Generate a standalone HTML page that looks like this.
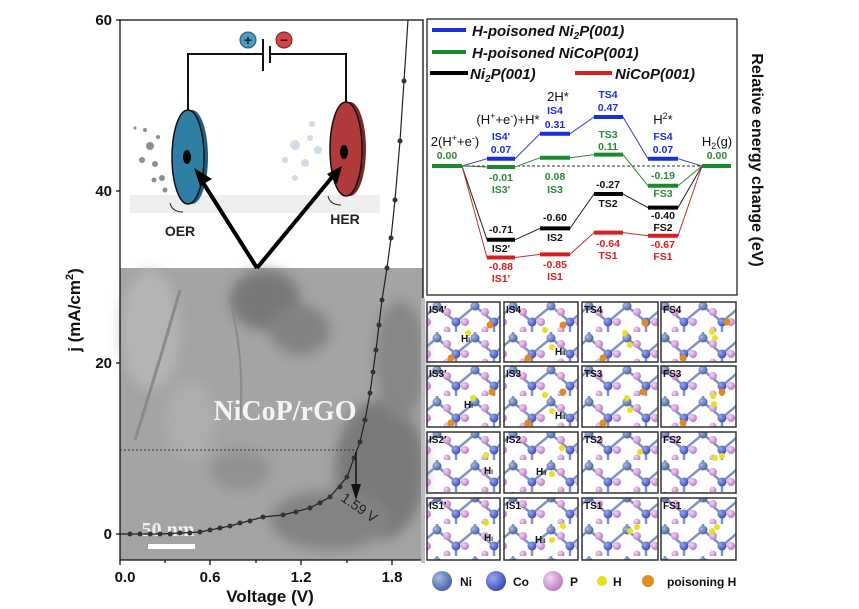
<!DOCTYPE html>
<html><head><meta charset="utf-8"><style>
html,body{margin:0;padding:0;background:#fff;}
svg{display:block;font-family:"Liberation Sans",Arial,sans-serif;}
</style></head><body>
<svg width="859" height="609" viewBox="0 0 859 609" xmlns="http://www.w3.org/2000/svg">
<defs>
<filter id="bl" x="-50%" y="-50%" width="200%" height="200%"><feGaussianBlur stdDeviation="6"/></filter>
<radialGradient id="gb" cx="35%" cy="35%" r="65%"><stop offset="0" stop-color="#a9b9e0"/><stop offset="1" stop-color="#4a65a8"/></radialGradient>
<radialGradient id="gc" cx="35%" cy="35%" r="65%"><stop offset="0" stop-color="#9aa6f0"/><stop offset="1" stop-color="#3c4fb8"/></radialGradient>
<radialGradient id="gp" cx="35%" cy="35%" r="65%"><stop offset="0" stop-color="#f2d6f2"/><stop offset="1" stop-color="#c07cc6"/></radialGradient>
<pattern id="lat" width="38" height="32" patternUnits="userSpaceOnUse" x="427" y="300">
<g stroke="#7f93c4" stroke-width="2.5">
<line x1="10" y1="6" x2="29" y2="22"/><line x1="29" y1="22" x2="48" y2="6"/><line x1="10" y1="6" x2="-9" y2="22"/><line x1="29" y1="22" x2="29" y2="38"/><line x1="10" y1="6" x2="10" y2="-10"/>
</g>
<circle cx="10" cy="6" r="4.5" fill="url(#gb)"/>
<circle cx="29" cy="22" r="4.5" fill="url(#gc)"/>
<circle cx="20" cy="12" r="4" fill="url(#gp)"/>
<circle cx="0" cy="22" r="4" fill="url(#gp)"/><circle cx="38" cy="22" r="4" fill="url(#gp)"/>
<circle cx="20" cy="30" r="3.5" fill="url(#gp)"/>
</pattern>
</defs>

<!-- LEFT PANEL -->
<rect x="120" y="268" width="303" height="292" fill="#a4a4a4"/>
<g filter="url(#bl)" opacity="0.8">
<ellipse cx="150" cy="330" rx="30" ry="60" fill="#b8b8b8"/>
<ellipse cx="265" cy="300" rx="35" ry="30" fill="#6d6d6d"/>
<ellipse cx="300" cy="330" rx="30" ry="25" fill="#7a7a7a"/>
<ellipse cx="380" cy="470" rx="45" ry="70" fill="#707070"/>
<ellipse cx="330" cy="520" rx="60" ry="30" fill="#7b7b7b"/>
<ellipse cx="400" cy="360" rx="25" ry="60" fill="#808080"/>
<ellipse cx="240" cy="470" rx="30" ry="20" fill="#8c8c8c"/>
<ellipse cx="190" cy="420" rx="25" ry="40" fill="#b0b0b0"/>
</g>
<path d="M180 290 Q160 360 135 440" stroke="#8a8a8a" stroke-width="3" fill="none"/>
<path d="M230 300 Q245 360 240 420" stroke="#8a8a8a" stroke-width="2" fill="none"/>
<!-- schematic -->
<rect x="130" y="195" width="250" height="18" fill="#eeeeee"/>
<polyline points="188,110 188,54 263,54" fill="none" stroke="#111" stroke-width="2"/>
<polyline points="270,54 346,54 346,102" fill="none" stroke="#111" stroke-width="2"/>
<line x1="263" y1="39" x2="263" y2="71" stroke="#111" stroke-width="2"/>
<line x1="270" y1="46" x2="270" y2="63" stroke="#111" stroke-width="2"/>
<circle cx="248" cy="40" r="8" fill="#4a9cc0" stroke="#256"/>
<text x="248" y="45" font-size="14" font-weight="bold" text-anchor="middle" fill="#123">+</text>
<circle cx="284" cy="40" r="8" fill="#d24545" stroke="#722"/>
<text x="284" y="45" font-size="14" font-weight="bold" text-anchor="middle" fill="#311">−</text>
<g fill="#8f8f8f">
<circle cx="150" cy="146" r="4"/><circle cx="142" cy="160" r="3"/><circle cx="155" cy="164" r="3"/><circle cx="162" cy="178" r="3"/><circle cx="154" cy="180" r="2.5"/><circle cx="165" cy="190" r="2.5"/><circle cx="145" cy="130" r="2"/><circle cx="158" cy="137" r="2"/><circle cx="135" cy="128" r="1.5"/>
</g>
<g fill="#cfdbe6">
<circle cx="295" cy="145" r="5"/><circle cx="305" cy="163" r="4"/><circle cx="310" cy="138" r="3"/><circle cx="285" cy="160" r="3"/><circle cx="318" cy="150" r="4"/><circle cx="295" cy="178" r="3"/><circle cx="312" cy="124" r="3"/>
</g>
<ellipse cx="192" cy="157" rx="16" ry="47" fill="#1f5f7c"/>
<ellipse cx="188" cy="157" rx="16" ry="47" fill="#2f7ea3" stroke="#111" stroke-width="1.5"/>
<ellipse cx="187" cy="157" rx="4" ry="7" fill="#000"/>
<ellipse cx="350" cy="149" rx="16" ry="47" fill="#7c2727"/>
<ellipse cx="346" cy="149" rx="16" ry="47" fill="#b03a3a" stroke="#111" stroke-width="1.5"/>
<ellipse cx="344" cy="152" rx="4" ry="7" fill="#000"/>
<path d="M170 203 Q172 212 183 212" stroke="#222" fill="none"/>
<path d="M328 196 Q330 205 341 205" stroke="#222" fill="none"/>
<text x="180" y="236" font-size="14" font-weight="bold" text-anchor="middle" fill="#222">OER</text>
<text x="345" y="224" font-size="14" font-weight="bold" text-anchor="middle" fill="#222">HER</text>
<g stroke="#000" stroke-width="4" fill="none">
<line x1="257" y1="268" x2="202" y2="181"/><line x1="257" y1="268" x2="333" y2="176"/>
</g>
<polygon points="194,168 212,179 200,186" fill="#000"/>
<polygon points="342,166 337,184 327,174" fill="#000"/>
<!-- text in TEM -->
<text x="285" y="420" font-family="Liberation Serif,serif" font-size="28" font-weight="bold" fill="#f4f4f4" text-anchor="middle">NiCoP/rGO</text>
<text x="168" y="536" font-family="Liberation Serif,serif" font-size="20" font-weight="bold" fill="#f0f0f0" text-anchor="middle">50 nm</text>
<rect x="148" y="544" width="47" height="5" fill="#fff"/>
<!-- axes -->
<rect x="120" y="20" width="303" height="540" fill="none" stroke="#111" stroke-width="1.3"/>
<g stroke="#111" stroke-width="1.3">
<line x1="116" y1="20" x2="120" y2="20"/><line x1="116" y1="191" x2="120" y2="191"/><line x1="116" y1="363" x2="120" y2="363"/><line x1="116" y1="534" x2="120" y2="534"/>
<line x1="120" y1="560" x2="120" y2="565"/><line x1="210" y1="560" x2="210" y2="565"/><line x1="301" y1="560" x2="301" y2="565"/><line x1="392" y1="560" x2="392" y2="565"/>
<line x1="165" y1="560" x2="165" y2="563"/><line x1="256" y1="560" x2="256" y2="563"/><line x1="347" y1="560" x2="347" y2="563"/>
</g>
<g font-size="15" font-weight="bold" fill="#111" text-anchor="end">
<text x="112" y="25">60</text><text x="112" y="196">40</text><text x="112" y="368">20</text><text x="112" y="539">0</text>
</g>
<g font-size="15" font-weight="bold" fill="#111" text-anchor="middle">
<text x="125" y="582">0.0</text><text x="210" y="582">0.6</text><text x="301" y="582">1.2</text><text x="392" y="582">1.8</text>
</g>
<text x="270" y="602" font-size="17" font-weight="bold" text-anchor="middle" fill="#111">Voltage (V)</text>
<text transform="translate(80,310) rotate(-90)" font-size="17" font-weight="bold" text-anchor="middle" fill="#111">j (mA/cm<tspan font-size="11" dy="-7">2</tspan><tspan dy="7">)</tspan></text>
<!-- curve -->
<line x1="120" y1="450" x2="356" y2="450" stroke="#333" stroke-dasharray="2,2" stroke-width="1"/>
<polyline fill="none" stroke="#222" stroke-width="1.2" points="120,534 160,534 200,532 230,526 263,517 283,515 310,508 330,497 347,477 354,458 360,442 365,420 370,393 376,350 382,300 387,268 391,238 395,200 400,141 404,81 408,20"/>
<g fill="#333">
<circle cx="130" cy="534" r="2.5"/><circle cx="140" cy="534" r="2.5"/><circle cx="150" cy="534" r="2.5"/><circle cx="160" cy="534" r="2.5"/><circle cx="170" cy="534" r="2.5"/><circle cx="180" cy="533" r="2.5"/><circle cx="190" cy="533" r="2.5"/><circle cx="200" cy="532" r="2.5"/><circle cx="210" cy="530" r="2.5"/><circle cx="220" cy="528" r="2.5"/><circle cx="230" cy="526" r="2.5"/><circle cx="240" cy="523" r="2.5"/><circle cx="250" cy="521" r="2.5"/><circle cx="263" cy="517" r="2.5"/><circle cx="283" cy="515" r="2.5"/><circle cx="296" cy="512" r="2.5"/><circle cx="310" cy="508" r="2.5"/><circle cx="320" cy="503" r="2.5"/><circle cx="330" cy="497" r="2.5"/><circle cx="340" cy="487" r="2.5"/><circle cx="347" cy="477" r="2.5"/><circle cx="354" cy="458" r="2.5"/><circle cx="360" cy="442" r="2.5"/><circle cx="365" cy="420" r="2.5"/><circle cx="370" cy="393" r="2.5"/><circle cx="373" cy="372" r="2.5"/><circle cx="376" cy="350" r="2.5"/><circle cx="379" cy="325" r="2.5"/><circle cx="382" cy="300" r="2.5"/><circle cx="387" cy="268" r="2.5"/><circle cx="391" cy="238" r="2.5"/><circle cx="395" cy="200" r="2.5"/><circle cx="400" cy="141" r="2.5"/><circle cx="404" cy="81" r="2.5"/>
</g>
<line x1="356" y1="452" x2="356" y2="488" stroke="#111" stroke-width="1.5"/>
<polygon points="351,484 361,484 356,500" fill="#111"/>
<text transform="translate(340,500) rotate(35)" font-size="14" fill="#222">1.59 V</text>

<!-- TOP RIGHT PANEL -->
<rect x="427" y="19" width="310" height="276" fill="#fff" stroke="#222" stroke-width="1.3"/>
<g stroke-width="4">
<line x1="432" y1="30" x2="466" y2="30" stroke="#1b2fd6"/>
<line x1="432" y1="52" x2="466" y2="52" stroke="#1c8a2a"/>
<line x1="430" y1="73" x2="468" y2="73" stroke="#000"/>
<line x1="575" y1="73" x2="612" y2="73" stroke="#d42020"/>
</g>
<g font-size="15" font-weight="bold" font-style="italic" fill="#111">
<text x="472" y="36">H-poisoned Ni<tspan font-size="10" dy="3">2</tspan><tspan dy="-3">P(001)</tspan></text>
<text x="472" y="58">H-poisoned NiCoP(001)</text>
<text x="470" y="79">Ni<tspan font-size="10" dy="3">2</tspan><tspan dy="-3">P(001)</tspan></text>
<text x="615" y="79">NiCoP(001)</text>
</g>
<line x1="462" y1="166" x2="702" y2="166" stroke="#333" stroke-dasharray="3,2" stroke-width="1"/>
<!-- connectors -->
<g fill="none" stroke-width="1">
<polyline stroke="#3340c8" points="462,166 487,158.7 515,158.7 540,133.8 570,133.8 594,117 623,117 648,158.7 678,158.7 702,166"/>
<polyline stroke="#2a8a35" points="462,166 487,167 515,167 540,157.7 570,157.7 594,154.6 623,154.6 648,185.8 678,185.8 702,166"/>
<polyline stroke="#222" points="462,166 487,239.8 515,239.8 540,228.4 570,228.4 594,194 623,194 648,207.6 678,207.6 702,166"/>
<polyline stroke="#c43030" points="462,166 487,257.5 515,257.5 540,254.4 570,254.4 594,232.6 623,232.6 648,235.7 678,235.7 702,166"/>
</g>
<g stroke-width="4">
<line x1="432" y1="166" x2="462" y2="166" stroke="#1c8a2a"/>
<line x1="702" y1="166" x2="731" y2="166" stroke="#1c8a2a"/>
<g stroke="#1b2fd6"><line x1="487" y1="158.7" x2="515" y2="158.7"/><line x1="540" y1="133.8" x2="570" y2="133.8"/><line x1="594" y1="117" x2="623" y2="117"/><line x1="648" y1="158.7" x2="678" y2="158.7"/></g>
<g stroke="#1c8a2a"><line x1="487" y1="167" x2="515" y2="167"/><line x1="540" y1="157.7" x2="570" y2="157.7"/><line x1="594" y1="154.6" x2="623" y2="154.6"/><line x1="648" y1="185.8" x2="678" y2="185.8"/></g>
<g stroke="#000"><line x1="487" y1="239.8" x2="515" y2="239.8"/><line x1="540" y1="228.4" x2="570" y2="228.4"/><line x1="594" y1="194" x2="623" y2="194"/><line x1="648" y1="207.6" x2="678" y2="207.6"/></g>
<g stroke="#d42020"><line x1="487" y1="257.5" x2="515" y2="257.5"/><line x1="540" y1="254.4" x2="570" y2="254.4"/><line x1="594" y1="232.6" x2="623" y2="232.6"/><line x1="648" y1="235.7" x2="678" y2="235.7"/></g>
</g>
<g font-size="13" fill="#111" text-anchor="middle">
<text x="455" y="146">2(H<tspan font-size="9" dy="-5">+</tspan><tspan dy="5">+e</tspan><tspan font-size="9" dy="-5">-</tspan><tspan dy="5">)</tspan></text>
<text x="508" y="124">(H<tspan font-size="9" dy="-5">+</tspan><tspan dy="5">+e</tspan><tspan font-size="9" dy="-5">-</tspan><tspan dy="5">)+H*</tspan></text>
<text x="558" y="101">2H*</text>
<text x="663" y="124">H<tspan font-size="9" dy="-5">2</tspan><tspan dy="5">*</tspan></text>
<text x="717" y="146">H<tspan font-size="9" dy="3">2</tspan><tspan dy="-3">(g)</tspan></text>
</g>
<g font-size="10.5" font-weight="bold" text-anchor="middle">
<g fill="#1b2fd6">
<text x="501" y="140">IS4'</text><text x="501" y="153">0.07</text>
<text x="555" y="114">IS4</text><text x="555" y="128">0.31</text>
<text x="608" y="98">TS4</text><text x="608" y="111">0.47</text>
<text x="663" y="140">FS4</text><text x="663" y="153">0.07</text>
</g>
<g fill="#2a8a35">
<text x="447" y="159">0.00</text><text x="717" y="159">0.00</text>
<text x="501" y="181">-0.01</text><text x="501" y="193">IS3'</text>
<text x="555" y="180">0.08</text><text x="555" y="193">IS3</text>
<text x="608" y="138">TS3</text><text x="608" y="150">0.11</text>
<text x="663" y="179">-0.19</text><text x="663" y="197">FS3</text>
</g>
<g fill="#111">
<text x="501" y="233">-0.71</text><text x="501" y="252">IS2'</text>
<text x="555" y="221">-0.60</text><text x="555" y="241">IS2</text>
<text x="608" y="188">-0.27</text><text x="608" y="207">TS2</text>
<text x="663" y="219">-0.40</text><text x="663" y="231">FS2</text>
</g>
<g fill="#d42020">
<text x="501" y="270">-0.88</text><text x="501" y="282">IS1'</text>
<text x="555" y="268">-0.85</text><text x="555" y="280">IS1</text>
<text x="608" y="247">-0.64</text><text x="608" y="259">TS1</text>
<text x="663" y="248">-0.67</text><text x="663" y="260">FS1</text>
</g>
</g>
<text transform="translate(752,160) rotate(90)" font-size="16" font-weight="bold" text-anchor="middle" fill="#111">Relative energy change (eV)</text>

<!-- BOTTOM RIGHT GRID -->
<rect x="421" y="298" width="4" height="265" fill="#bbb"/>
<g stroke="#333" stroke-width="1.5" fill="url(#lat)">
<rect x="427" y="302" width="73" height="60"/><rect x="504" y="302" width="74" height="60"/><rect x="582" y="302" width="76" height="60"/><rect x="661" y="302" width="75" height="60"/>
<rect x="427" y="366" width="73" height="61"/><rect x="504" y="366" width="74" height="61"/><rect x="582" y="366" width="76" height="61"/><rect x="661" y="366" width="75" height="61"/>
<rect x="427" y="432" width="73" height="61"/><rect x="504" y="432" width="74" height="61"/><rect x="582" y="432" width="76" height="61"/><rect x="661" y="432" width="75" height="61"/>
<rect x="427" y="498" width="73" height="62"/><rect x="504" y="498" width="74" height="62"/><rect x="582" y="498" width="76" height="62"/><rect x="661" y="498" width="75" height="62"/>
</g>
<g fill="#e08a20">
<circle cx="451" cy="358" r="3.5"/><circle cx="490" cy="325" r="3.5"/><circle cx="528" cy="358" r="3.5"/><circle cx="563" cy="325" r="3.5"/><circle cx="603" cy="358" r="3.5"/><circle cx="645" cy="323" r="3.5"/><circle cx="683" cy="358" r="3.5"/><circle cx="727" cy="322" r="3.5"/>
<circle cx="451" cy="423" r="3.5"/><circle cx="492" cy="392" r="3.5"/><circle cx="528" cy="423" r="3.5"/><circle cx="563" cy="392" r="3.5"/><circle cx="603" cy="423" r="3.5"/><circle cx="643" cy="392" r="3.5"/><circle cx="683" cy="423" r="3.5"/><circle cx="722" cy="392" r="3.5"/>
</g>
<g fill="#e8e020">
<circle cx="468" cy="333" r="3"/><circle cx="545" cy="330" r="3"/><circle cx="552" cy="347" r="3"/><circle cx="625" cy="333" r="3"/><circle cx="630" cy="345" r="3"/><circle cx="712" cy="332" r="3"/><circle cx="715" cy="338" r="3"/>
<circle cx="473" cy="398" r="3"/><circle cx="545" cy="395" r="3"/><circle cx="552" cy="411" r="3"/><circle cx="627" cy="398" r="3"/><circle cx="630" cy="410" r="3"/><circle cx="713" cy="396" r="3"/><circle cx="714" cy="404" r="3"/>
<circle cx="486" cy="455" r="3"/><circle cx="562" cy="448" r="3"/><circle cx="552" cy="474" r="3"/><circle cx="640" cy="452" r="3"/><circle cx="715" cy="458" r="3"/><circle cx="722" cy="456" r="3"/>
<circle cx="486" cy="523" r="3"/><circle cx="563" cy="526" r="3"/><circle cx="552" cy="540" r="3"/><circle cx="630" cy="531" r="3"/><circle cx="637" cy="527" r="3"/><circle cx="712" cy="531" r="3"/><circle cx="717" cy="527" r="3"/>
</g>
<g font-size="10" font-weight="bold" fill="#111">
<text x="429" y="313">IS4′</text><text x="506" y="313">IS4</text><text x="584" y="313">TS4</text><text x="663" y="313">FS4</text>
<text x="429" y="377">IS3′</text><text x="506" y="377">IS3</text><text x="584" y="377">TS3</text><text x="663" y="377">FS3</text>
<text x="429" y="443">IS2′</text><text x="506" y="443">IS2</text><text x="584" y="443">TS2</text><text x="663" y="443">FS2</text>
<text x="429" y="509">IS1′</text><text x="506" y="509">IS1</text><text x="584" y="509">TS1</text><text x="663" y="509">FS1</text>
<text x="461" y="342">H<tspan font-size="6">I</tspan></text><text x="555" y="355">H<tspan font-size="6">II</tspan></text>
<text x="464" y="408">H<tspan font-size="6">I</tspan></text><text x="555" y="419">H<tspan font-size="6">II</tspan></text>
<text x="484" y="474">H<tspan font-size="6">I</tspan></text><text x="536" y="475">H<tspan font-size="6">II</tspan></text>
<text x="484" y="541">H<tspan font-size="6">I</tspan></text><text x="535" y="543">H<tspan font-size="6">II</tspan></text>
</g>
<!-- legend -->
<circle cx="442" cy="581" r="10" fill="url(#gb)"/>
<circle cx="496" cy="581" r="10" fill="url(#gc)"/>
<circle cx="553" cy="581" r="10" fill="url(#gp)"/>
<circle cx="602" cy="581" r="5" fill="#e8e020"/>
<circle cx="648" cy="581" r="6" fill="#e08a20"/>
<g font-size="12" font-weight="bold" fill="#111">
<text x="460" y="586">Ni</text><text x="513" y="586">Co</text><text x="570" y="586">P</text><text x="613" y="586">H</text><text x="667" y="586">poisoning H</text>
</g>
</svg>
</body></html>
